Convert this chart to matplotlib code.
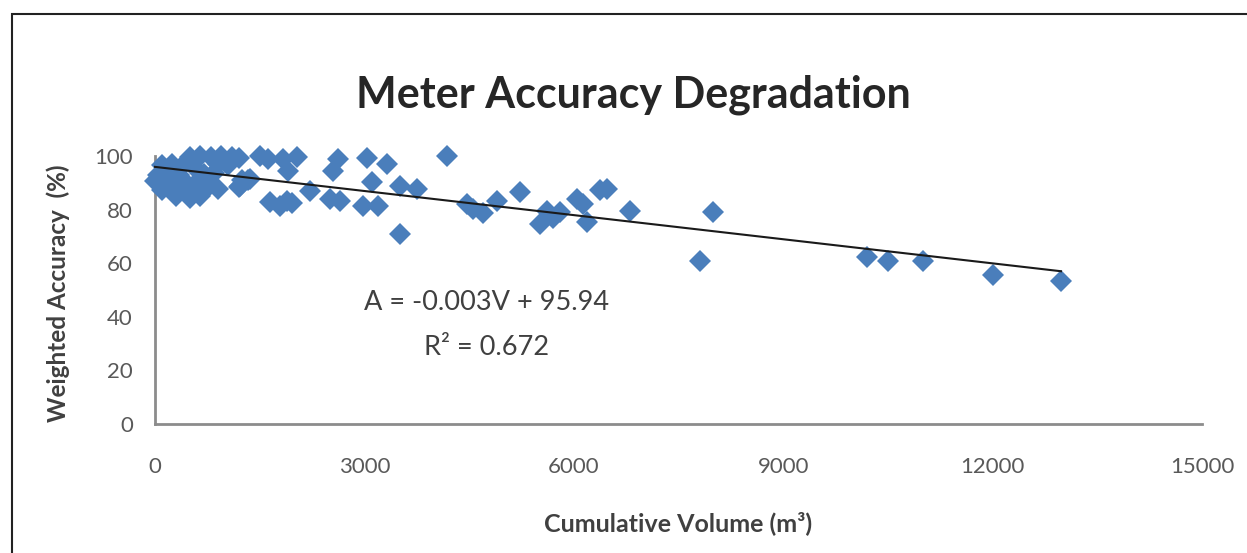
import matplotlib
matplotlib.use("Agg")
import matplotlib.pyplot as plt
from matplotlib.patches import Rectangle
import numpy as np

plt.rcParams['font.family'] = ['Lato', 'DejaVu Sans']

# Cumulative volume (m3) and weighted accuracy (%)
volume = [
    # dense cluster 0-1300
    500, 650, 800, 950, 1100, 1200,
    100, 250, 400, 550, 900, 1050,
    50, 200, 350, 700, 850,
    0, 150, 300, 450, 600, 750, 1250,
    100, 250, 400, 550, 700, 900, 1200,
    300, 500, 650,
    1330, 1220,
    # 1400-2300
    1504, 1620, 1834, 2034, 1905, 1361, 1648, 1891, 1790, 1963, 2220,
    # 2300-5000
    2620, 2550, 3037, 3324, 4183, 3109, 3510, 3754, 2507, 2650, 2980,
    3195, 3510, 4470, 4556, 4700, 4900,
    # 5000-7000
    5229, 5516, 5616, 5700, 5802, 6046, 6132, 6189, 6375, 6476, 6805,
    # large volumes
    7808, 7994, 10200, 10501, 11003, 12006, 12980,
]
accuracy = [
    99.5, 100, 99.8, 100, 99.6, 99.2,
    96.5, 97.0, 96.8, 96.2, 97.0, 96.5,
    93.0, 93.5, 92.8, 93.2, 93.6,
    90.7, 90.2, 90.5, 89.8, 90.4, 90.0, 91.0,
    87.5, 87.0, 87.2, 86.6, 87.0, 87.8, 88.5,
    85.2, 84.5, 85.0,
    91.2, 88.8,
    100, 99.0, 98.8, 99.8, 94.4, 91.4, 82.8, 83.2, 81.5, 82.6, 87.0,
    99.0, 94.4, 99.4, 97.0, 100, 90.3, 88.8, 87.7, 84.0, 83.2, 81.3,
    81.3, 70.9, 82.0, 80.2, 78.8, 83.2,
    86.6, 74.6, 79.5, 77.0, 79.1, 84.0, 82.1, 75.4, 87.4, 87.7, 79.5,
    60.8, 79.0, 62.3, 60.8, 60.8, 55.6, 53.4,
]

slope, intercept = -0.003, 95.94
x_ticks = [0, 3000, 6000, 9000, 12000, 15000]
y_ticks = [0, 20, 40, 60, 80, 100]

W, H = 1247, 553
fig = plt.figure(figsize=(W / 100, H / 100), dpi=100)
fig.patch.set_facecolor('white')

# outer frame
fig.patches.append(Rectangle((12 / W, -0.1), 1.2, 1 - 14 / H + 0.1,
                             transform=fig.transFigure, fill=False,
                             edgecolor='#222222', linewidth=1.5))

ax = fig.add_axes([155 / W, 1 - 424 / H, (1202 - 155) / W, (424 - 156) / H])
ax.set_xlim(0, 15000)
ax.set_ylim(0, 100)

v = np.array(volume)
a = np.array(accuracy)
ax.plot(v, a, linestyle='none', marker='D', markersize=11.0,
        color='#4a7ebb', markeredgewidth=0, zorder=3, clip_on=False)

xl = np.array([0, v.max()])
ax.plot(xl, slope * xl + intercept, color='#1a1a1a', linewidth=1.5,
        zorder=4, clip_on=False)

ax.set_xticks(x_ticks)
ax.set_yticks(y_ticks)
ax.set_xticklabels([str(t) for t in x_ticks])
ax.set_yticklabels([str(t) for t in y_ticks])
ax.tick_params(axis='both', length=0, labelsize=16, labelcolor='#595959')
ax.tick_params(axis='x', pad=24)
ax.tick_params(axis='y', pad=16)

for s in ['top', 'right']:
    ax.spines[s].set_visible(False)
for s in ['left', 'bottom']:
    ax.spines[s].set_color('#8c8c8c')
    ax.spines[s].set_linewidth(2.0)

ax.text(4756, 45.5, 'A = -0.003V + 95.94', ha='center', va='center',
        fontsize=19.5, color='#404040')
ax.text(4756, 28.7, 'R\u00b2 = 0.672', ha='center', va='center',
        fontsize=19.5, color='#404040')

fig.text(633 / W, 1 - 95 / H, 'Meter Accuracy Degradation', ha='center',
         va='center', fontsize=31, fontweight='bold', color='#262626')
fig.text(678 / W, 1 - 523 / H, 'Cumulative Volume (m\u00b3)',
         ha='center', va='center', fontsize=18, fontweight='bold',
         color='#404040')
fig.text(58 / W, 1 - 293 / H, 'Weighted Accuracy  (%)', ha='center',
         va='center', rotation=90, fontsize=17.5, fontweight='bold',
         color='#404040')

fig.savefig('out.png', dpi=100)
